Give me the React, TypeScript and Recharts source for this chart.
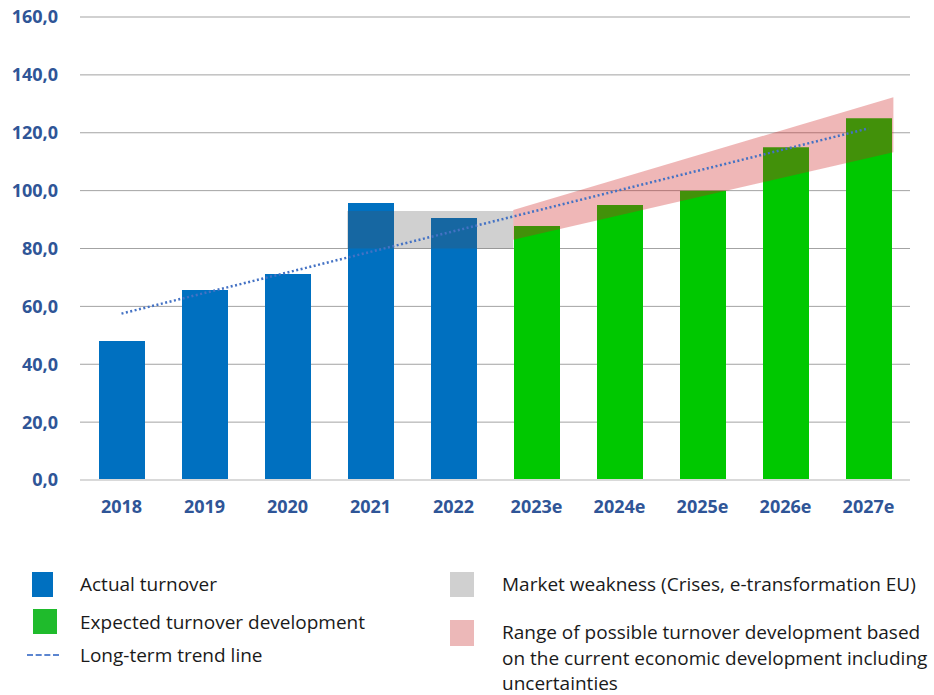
import React from 'react'
import {
  BarChart,
  Bar,
  ComposedChart,
  Line,
  Area,
  XAxis,
  YAxis,
  CartesianGrid,
  ReferenceLine
} from 'recharts'

const years = ['2018', '2019', '2020', '2021', '2022', '2023e', '2024e', '2025e', '2026e', '2027e']
const actual = [48.0, 65.7, 71.2, 95.7, 90.5, null, null, null, null, null]
const expected = [null, null, null, null, null, 87.8, 95.0, 100.0, 115.0, 125.0]
const yTicks = [0, 20, 40, 60, 80, 100, 120, 140, 160]

// trend line end points (x = category index)
const trendX = [0, 9]
const trendValues = [57.5, 121.5]

// grey "market weakness" zone
const weaknessX = [2.72, 4.72]
const weaknessLow = [80, 80]
const weaknessHigh = [93, 93]

// pink range of possible development
const rangeX = [4.72, 9.3]
const rangeLow = [83, 113.3]
const rangeHigh = [93.3, 132.3]

const W = 934
const H = 540
const MARGIN = { top: 17, right: 24, bottom: 0, left: 0 }
const FONT = '"Open Sans", "Noto Sans", sans-serif'
const TICK_COLOR = '#2f5597'

const barData = years.map((y, i) => ({ year: y, actual: actual[i], expected: expected[i] }))

type Row = { x: number; trend?: number; weak?: [number, number]; range?: [number, number] }
const rowMap = new Map<number, Row>()
const row = (x: number) => {
  if (!rowMap.has(x)) rowMap.set(x, { x })
  return rowMap.get(x) as Row
}
trendX.forEach((x, i) => (row(x).trend = trendValues[i]))
weaknessX.forEach((x, i) => (row(x).weak = [weaknessLow[i], weaknessHigh[i]]))
rangeX.forEach((x, i) => (row(x).range = [rangeLow[i], rangeHigh[i]]))
const overlayData = Array.from(rowMap.values()).sort((a, b) => a.x - b.x)

const fmt = (v: number) => v.toFixed(1).replace('.', ',')

function Legend() {
  const text: React.CSSProperties = {
    position: 'absolute',
    fontFamily: FONT,
    fontSize: 19,
    lineHeight: '26px',
    color: '#1a1a1a',
    whiteSpace: 'nowrap'
  }
  const box = (left: number, top: number, w: number, h: number, bg: string): React.CSSProperties => ({
    position: 'absolute', left, top, width: w, height: h, background: bg
  })
  return (
    <>
      <div style={box(32, 572, 21, 25, '#0070c0')} />
      <div style={{ ...text, left: 80, top: 571 }}>Actual turnover</div>
      <div style={box(33, 609, 24, 25, '#1fbb2c')} />
      <div style={{ ...text, left: 80, top: 609 }}>Expected turnover development</div>
      <div style={{ position: 'absolute', left: 27, top: 654, width: 32, height: 0, borderTop: '2px dashed #5b85d0' }} />
      <div style={{ ...text, left: 80, top: 642 }}>Long-term trend line</div>

      <div style={box(450, 572, 24, 25, '#d0d0d0')} />
      <div style={{ ...text, left: 502, top: 571 }}>Market weakness (Crises, e-transformation EU)</div>
      <div style={box(450, 620, 24, 26, '#ecb8b8')} />
      <div style={{ ...text, left: 502, top: 620, lineHeight: '25.5px' }}>
        Range of possible turnover development based
        <br />
        on the current economic development including
        <br />
        uncertainties
      </div>
    </>
  )
}

export default function App() {
  return (
    <div style={{ position: 'absolute', left: 0, top: 0, width: W, height: 695, background: '#fff' }}>
      <div style={{ position: 'absolute', left: 0, top: 0 }}>
        <BarChart width={W} height={H} data={barData} margin={MARGIN}>
          <CartesianGrid vertical={false} stroke="#a3a3a3" />
          <XAxis
            dataKey="year"
            height={60}
            axisLine={false}
            tickLine={false}
            tickSize={0}
            tickMargin={20}
            tick={{ fill: TICK_COLOR, fontSize: 18, fontWeight: 700, fontFamily: FONT }}
          />
          <YAxis
            width={80}
            domain={[0, 160]}
            ticks={yTicks}
            axisLine={false}
            tickLine={false}
            tickSize={0}
            tickMargin={22}
            tickFormatter={fmt}
            tick={{ fill: TICK_COLOR, fontSize: 18, fontWeight: 700, fontFamily: FONT }}
          />
          <ReferenceLine y={0} stroke="#d9d9d9" strokeWidth={2} />
          <Bar dataKey="actual" stackId="a" fill="#0070c0" barSize={46} isAnimationActive={false} />
          <Bar dataKey="expected" stackId="a" fill="#00c800" barSize={46} isAnimationActive={false} />
        </BarChart>
      </div>
      <div style={{ position: 'absolute', left: 0, top: 0 }}>
        <ComposedChart width={W} height={H} data={overlayData} margin={{ top: 17, right: 24, bottom: 60, left: 80 }}>
          <XAxis type="number" dataKey="x" domain={[-0.5, 9.5]} hide allowDataOverflow />
          <YAxis domain={[0, 160]} hide allowDataOverflow />
          <Line
            dataKey="trend"
            type="linear"
            stroke="#4472c4"
            strokeWidth={2.5}
            strokeDasharray="2 2.5"
            dot={false}
            activeDot={false}
            connectNulls
            isAnimationActive={false}
          />
          <Area
            dataKey="weak"
            type="linear"
            stroke="none"
            fill="rgba(80,80,80,0.27)"
            fillOpacity={1}
            dot={false}
            activeDot={false}
            connectNulls
            isAnimationActive={false}
          />
          <Area
            dataKey="range"
            type="linear"
            stroke="none"
            fill="rgba(205,30,30,0.32)"
            fillOpacity={1}
            dot={false}
            activeDot={false}
            connectNulls
            isAnimationActive={false}
          />
        </ComposedChart>
      </div>
      <Legend />
    </div>
  )
}
